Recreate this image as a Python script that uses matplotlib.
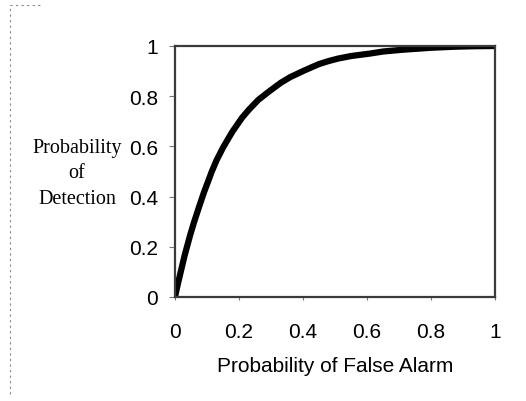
import matplotlib
matplotlib.use("Agg")
import matplotlib.pyplot as plt
from matplotlib.lines import Line2D

# Data (ROC curve)
false_alarm = [0.0, 0.005, 0.016, 0.03, 0.047, 0.06, 0.078, 0.09, 0.115, 0.13, 0.15,
               0.166, 0.18, 0.21, 0.23, 0.26, 0.29, 0.33, 0.36, 0.40, 0.43, 0.45,
               0.48, 0.51, 0.55, 0.61, 0.65, 0.71, 0.80, 0.87, 0.93, 1.0]
detection = [0.0, 0.03, 0.09, 0.165, 0.245, 0.30, 0.37, 0.415, 0.50, 0.545, 0.595,
             0.63, 0.66, 0.715, 0.745, 0.785, 0.815, 0.853, 0.876, 0.90, 0.917, 0.928,
             0.94, 0.95, 0.96, 0.97, 0.978, 0.985, 0.993, 0.997, 0.999, 1.0]
x_ticks = [0, 0.2, 0.4, 0.6, 0.8, 1]
x_tick_labels = ["0", "0.2", "0.4", "0.6", "0.8", "1"]
y_ticks = [0, 0.2, 0.4, 0.6, 0.8, 1]
y_tick_labels = ["0", "0.2", "0.4", "0.6", "0.8", "1"]

W, H = 526, 402
fig = plt.figure(figsize=(W / 100, H / 100), dpi=100)
fig.patch.set_facecolor("white")

left, right, top, bottom = 175, 495, 47, 298
ax = fig.add_axes([left / W, 1 - bottom / H, (right - left) / W, (bottom - top) / H])

ax.plot(false_alarm, detection, color="black", lw=4.5, solid_capstyle="butt",
        solid_joinstyle="round")
ax.set_xlim(0, 1)
ax.set_ylim(0, 1)

for s in ax.spines.values():
    s.set_color("#3a3a3a")
    s.set_linewidth(1.6)

sans = "Liberation Sans"
serif = "Liberation Serif"
ax.set_xticks(x_ticks)
ax.set_xticklabels(x_tick_labels, fontfamily=sans, fontsize=15)
ax.set_yticks(y_ticks)
ax.set_yticklabels(y_tick_labels, fontfamily=sans, fontsize=15)
ax.tick_params(axis="x", direction="out", length=2, width=0.8, color="#777777", pad=16)
ax.tick_params(axis="y", direction="out", length=4, width=0.8, color="#777777", pad=8)

ax.set_xlabel("Probability of False Alarm", fontfamily=sans, fontsize=15, labelpad=11)

fig.text(77 / W, 1 - 174 / H, "Probability\nof\nDetection", ha="center", va="center",
         multialignment="center", fontfamily=serif, fontsize=14.5, linespacing=1.45)

# faint scan border on the left edge
fig.add_artist(Line2D([10 / W, 10 / W, 40 / W], [1 - 395 / H, 1 - 6 / H, 1 - 6 / H],
                      transform=fig.transFigure, color="#888888", lw=0.8, ls=(0, (2, 3))))

fig.savefig("out.png", dpi=100)
